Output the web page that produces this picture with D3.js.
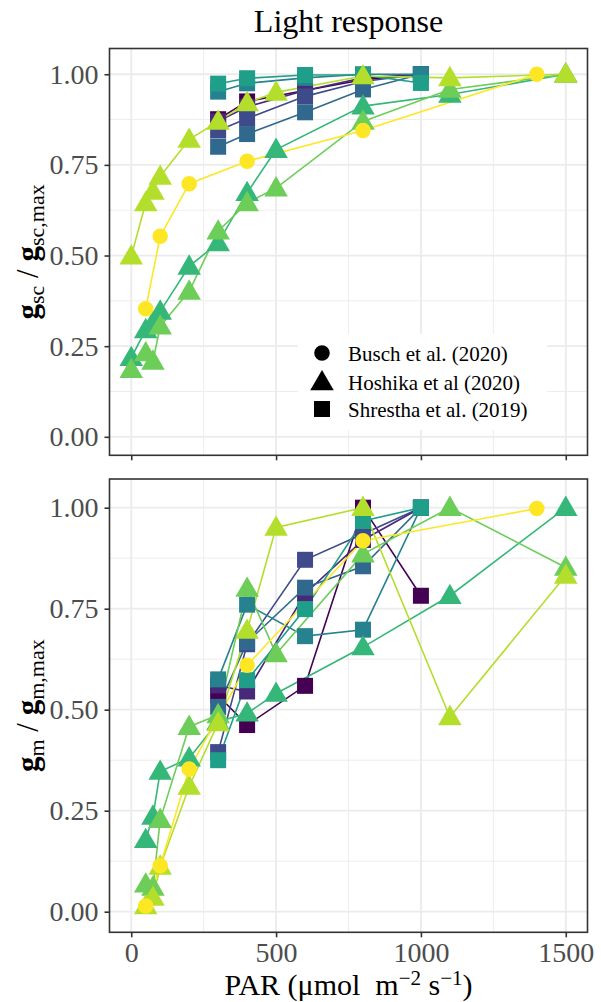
<!DOCTYPE html>
<html>
<head>
<meta charset="utf-8">
<script src="https://cdn.jsdelivr.net/npm/d3@7"></script>
<style>
  body { margin: 0; background: #fff; }
  svg { font-family: "Liberation Serif", "Times New Roman", serif; }
</style>
</head>
<body>
<div id="chart"></div>
<script>
// ---- data ----
const studies = ["Busch et al. (2020)", "Hoshika et al (2020)", "Shrestha et al. (2019)"];
const viridis10 = ["#440154", "#482878", "#3E4A89", "#31688E", "#26828E",
                   "#1F9E89", "#35B779", "#6DCD59", "#B4DE2C", "#FDE725"];

const xTicks = [0, 500, 1000, 1500];
const yTicks = [0, 0.25, 0.5, 0.75, 1];

// PAR levels per study
const parShrestha = [300, 400, 600, 800, 1000];
const parHoshikaGsc = [0, 50, 75, 100, 200, 300, 400, 500, 800, 1100, 1500];
const parHoshikaGm = [50, 75, 100, 200, 300, 400, 500, 800, 1100, 1500];
const parBusch = [50, 100, 200, 400, 800, 1400];

// Shrestha et al. (2019), six series
const shr1Gsc = [0.876, 0.925, 0.955, 0.985, 1.0];
const shr2Gsc = [0.87, 0.91, 0.955, 0.99, 1.0];
const shr3Gsc = [0.845, 0.878, 0.939, 0.98, 1.0];
const shr4Gsc = [0.80, 0.835, 0.895, 0.958, 1.0];
const shr5Gsc = [0.952, 0.975, 0.99, 1.0, 1.0];
const shr6Gsc = [0.974, 0.989, 0.998, 0.998, 0.976];

const shr1Gm = [0.535, 0.462, 0.559, 1.0, 0.782];
const shr2Gm = [0.56, 0.545, 0.787, 0.92, 1.0];
const shr3Gm = [0.395, 0.662, 0.871, 0.935, 1.0];
const shr4Gm = [0.507, 0.667, 0.802, 0.855, 1.0];
const shr5Gm = [0.575, 0.76, 0.682, 0.698, 1.0];
const shr6Gm = [0.375, 0.573, 0.749, 0.967, 1.0];

// Hoshika et al (2020), three series
const hos1Gsc = [0.218, 0.295, 0.315, 0.346, 0.47, 0.535, 0.673, 0.792, 0.912, 0.944, 1.0];
const hos2Gsc = [0.185, 0.231, 0.208, 0.305, 0.401, 0.567, 0.645, 0.686, 0.87, 0.958, 1.0];
const hos3Gsc = [0.498, 0.645, 0.677, 0.718, 0.82, 0.87, 0.921, 0.95, 0.995, 0.99, 1.0];

const hos1Gm = [0.178, 0.236, 0.347, 0.38, 0.47, 0.491, 0.54, 0.655, 0.782, 1.0];
const hos2Gm = [0.068, 0.06, 0.228, 0.458, 0.487, 0.80, 0.638, 0.885, 1.0, 0.852];
const hos3Gm = [0.014, 0.035, 0.112, 0.31, 0.467, 0.696, 0.951, 1.0, 0.482, 0.832];

// Busch et al. (2020)
const buschGsc = [0.353, 0.553, 0.698, 0.76, 0.845, 1.0];
const buschGm = [0.014, 0.114, 0.353, 0.61, 0.918, 0.998];

// ---- assemble series (drawing order = colour order) ----
const series = [
  { study: 2, color: viridis10[0], gscPar: parShrestha, gsc: shr1Gsc, gmPar: parShrestha, gm: shr1Gm },
  { study: 2, color: viridis10[1], gscPar: parShrestha, gsc: shr2Gsc, gmPar: parShrestha, gm: shr2Gm },
  { study: 2, color: viridis10[2], gscPar: parShrestha, gsc: shr3Gsc, gmPar: parShrestha, gm: shr3Gm },
  { study: 2, color: viridis10[3], gscPar: parShrestha, gsc: shr4Gsc, gmPar: parShrestha, gm: shr4Gm },
  { study: 2, color: viridis10[4], gscPar: parShrestha, gsc: shr5Gsc, gmPar: parShrestha, gm: shr5Gm },
  { study: 2, color: viridis10[5], gscPar: parShrestha, gsc: shr6Gsc, gmPar: parShrestha, gm: shr6Gm },
  { study: 1, color: viridis10[6], gscPar: parHoshikaGsc, gsc: hos1Gsc, gmPar: parHoshikaGm, gm: hos1Gm },
  { study: 1, color: viridis10[7], gscPar: parHoshikaGsc, gsc: hos2Gsc, gmPar: parHoshikaGm, gm: hos2Gm },
  { study: 1, color: viridis10[8], gscPar: parHoshikaGsc, gsc: hos3Gsc, gmPar: parHoshikaGm, gm: hos3Gm },
  { study: 0, color: viridis10[9], gscPar: parBusch, gsc: buschGsc, gmPar: parBusch, gm: buschGm }
];

// ---- layout ----
const W = 601, H = 1002;
const plotLeft = 109.5, plotRight = 587.5;
const panels = [
  { key: "gsc", top: 48.5, bottom: 455.3, sub: "sc", showX: false },
  { key: "gm", top: 479, bottom: 932.3, sub: "m", showX: true }
];

const svg = d3.select("#chart").append("svg")
  .attr("width", W)
  .attr("height", H);

const x = d3.scaleLinear().domain([-75, 1575]).range([plotLeft, plotRight]);
const xMinor = [250, 750, 1250];
const yMinor = [0.125, 0.375, 0.625, 0.875];

const symbols = [d3.symbolCircle, d3.symbolTriangle, d3.symbolSquare];
const symbolSizes = [190, 240, 256];

function markPath(study) {
  return d3.symbol().type(symbols[study]).size(symbolSizes[study])();
}

panels.forEach(p => {
  const y = d3.scaleLinear().domain([-0.051, 1.071]).range([p.bottom, p.top]);
  const g = svg.append("g");

  // background + grid
  g.append("rect")
    .attr("x", plotLeft).attr("y", p.top)
    .attr("width", plotRight - plotLeft).attr("height", p.bottom - p.top)
    .attr("fill", "#fff");

  g.selectAll(".minor-x").data(xMinor).enter().append("line")
    .attr("x1", d => x(d)).attr("x2", d => x(d))
    .attr("y1", p.top).attr("y2", p.bottom)
    .attr("stroke", "#EBEBEB").attr("stroke-width", 0.9);
  g.selectAll(".minor-y").data(yMinor).enter().append("line")
    .attr("x1", plotLeft).attr("x2", plotRight)
    .attr("y1", d => y(d)).attr("y2", d => y(d))
    .attr("stroke", "#EBEBEB").attr("stroke-width", 0.9);
  g.selectAll(".major-x").data(xTicks).enter().append("line")
    .attr("x1", d => x(d)).attr("x2", d => x(d))
    .attr("y1", p.top).attr("y2", p.bottom)
    .attr("stroke", "#EBEBEB").attr("stroke-width", 1.8);
  g.selectAll(".major-y").data(yTicks).enter().append("line")
    .attr("x1", plotLeft).attr("x2", plotRight)
    .attr("y1", d => y(d)).attr("y2", d => y(d))
    .attr("stroke", "#EBEBEB").attr("stroke-width", 1.8);

  // lines first, then points
  const line = d3.line().x(d => x(d[0])).y(d => y(d[1]));
  series.forEach(s => {
    const pts = s[p.key + "Par"].map((v, i) => [v, s[p.key][i]]);
    g.append("path")
      .datum(pts)
      .attr("d", line)
      .attr("fill", "none")
      .attr("stroke", s.color)
      .attr("stroke-width", 1.6);
  });
  series.forEach(s => {
    const pts = s[p.key + "Par"].map((v, i) => [v, s[p.key][i]]);
    g.selectAll(null).data(pts).enter().append("path")
      .attr("d", markPath(s.study))
      .attr("transform", d => `translate(${x(d[0])},${y(d[1]) + (s.study === 1 ? 1.5 : 0)})`)
      .attr("fill", s.color);
  });

  // axes
  const yAxis = g.append("g")
    .attr("transform", `translate(${plotLeft},0)`)
    .call(d3.axisLeft(y).tickValues(yTicks).tickFormat(d3.format(".2f")).tickSize(5).tickPadding(6));
  const xAxis = g.append("g")
    .attr("transform", `translate(0,${p.bottom})`)
    .call(d3.axisBottom(x).tickValues(xTicks).tickSize(5).tickPadding(5)
      .tickFormat(p.showX ? d3.format("d") : ""));
  [yAxis, xAxis].forEach(a => {
    a.select(".domain").remove();
    a.selectAll(".tick line").attr("stroke", "#333").attr("stroke-width", 1.6);
    a.selectAll(".tick text")
      .attr("fill", "#4D4D4D")
      .style("font-family", "Liberation Serif, serif")
      .style("font-size", "28px");
  });

  // panel border
  g.append("rect")
    .attr("x", plotLeft).attr("y", p.top)
    .attr("width", plotRight - plotLeft).attr("height", p.bottom - p.top)
    .attr("fill", "none").attr("stroke", "#333").attr("stroke-width", 1.6);

  // y title
  const cy = (p.top + p.bottom) / 2;
  const yt = svg.append("text")
    .attr("transform", `translate(38,${cy}) rotate(-90)`)
    .attr("text-anchor", "middle")
    .style("font-size", "31px");
  yt.append("tspan").attr("font-weight", "bold").text("g");
  yt.append("tspan").attr("dy", 6).style("font-size", "22px").text(p.sub);
  yt.append("tspan").attr("dy", -6).text("\u00A0/\u00A0");
  yt.append("tspan").attr("font-weight", "bold").text("g");
  yt.append("tspan").attr("dy", 6).style("font-size", "22px").text(p.sub + ",max");
});

// title
svg.append("text")
  .attr("x", (plotLeft + plotRight) / 2)
  .attr("y", 32)
  .attr("text-anchor", "middle")
  .style("font-size", "32px")
  .text("Light response");

// x title
const xt = svg.append("text")
  .attr("x", (plotLeft + plotRight) / 2)
  .attr("y", 995)
  .attr("text-anchor", "middle")
  .style("font-size", "30px");
xt.append("tspan").text("PAR (\u03BCmol\u00A0\u00A0m");
xt.append("tspan").attr("dy", -10).style("font-size", "21px").text("\u22122");
xt.append("tspan").attr("dy", 10).text("\u00A0s");
xt.append("tspan").attr("dy", -10).style("font-size", "21px").text("\u22121");
xt.append("tspan").attr("dy", 10).text(")");

// legend inside top panel
const legend = svg.append("g");
legend.append("rect")
  .attr("x", 298).attr("y", 334).attr("width", 249).attr("height", 96)
  .attr("fill", "#fff");
const legendY = [353, 382, 409];
studies.forEach((name, i) => {
  legend.append("path")
    .attr("d", markPath(i))
    .attr("transform", `translate(322,${legendY[i] + (i === 1 ? 1.5 : 0)})`)
    .attr("fill", "#000");
  legend.append("text")
    .attr("x", 348)
    .attr("y", legendY[i] + 7.5)
    .style("font-size", "21px")
    .text(name);
});
</script>
</body>
</html>
